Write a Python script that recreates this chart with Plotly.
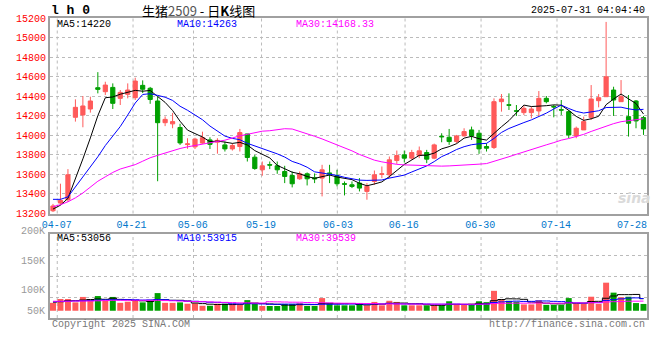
import plotly.graph_objects as go

# ---------------- data ----------------
tick_labels = ['04-07', '04-21', '05-06', '05-19', '06-03', '06-16', '06-30', '07-14', '07-28']

opens = [13228, 13307, 13341, 14184, 14208, 14269, 14487, 14446, 14490, 14378,
         14419, 14385, 14511, 14481, 14351, 14129, 14117, 14080, 13905, 13882,
         13920, 13953, 13930, 13902, 13861, 13885, 14014, 13776, 13647, 13700,
         13688, 13630, 13589, 13555, 13606, 13565, 13562, 13615, 13586, 13505,
         13494, 13511, 13426, 13528, 13600, 13596, 13742, 13800, 13766, 13793,
         13824, 13766, 13990, 13980, 13936, 13994, 14055, 14021, 13885, 13875,
         14344, 14312, 14251, 14232, 14232, 14249, 14378, 14295, 14262, 14242,
         13994, 14055, 14181, 14354, 14395, 14463, 14344, 14191, 14351, 14181]
highs = [13298, 13505, 13654, 14368, 14402, 14395, 14646, 14548, 14531, 14463,
         14531, 14589, 14562, 14495, 14395, 14193, 14229, 14118, 13970, 13975,
         14037, 13980, 13970, 13936, 13919, 14065, 14014, 13800, 13732, 13732,
         13732, 13688, 13630, 13630, 13620, 13610, 13698, 13698, 13647, 13528,
         13528, 13562, 13511, 13640, 13681, 13783, 13844, 13844, 13851, 13885,
         13851, 13915, 14021, 14065, 14004, 14072, 14089, 14055, 13919, 14378,
         14422, 14429, 14310, 14300, 14293, 14453, 14402, 14310, 14361, 14259,
         14089, 14191, 14514, 14422, 15160, 14497, 14565, 14412, 14361, 14198]
lows = [13215, 13290, 13320, 14140, 14082, 14232, 14429, 14412, 14269, 14310,
        14378, 14361, 14432, 14322, 13530, 14094, 14072, 13902, 13862, 13860,
        13912, 13860, 13812, 13834, 13844, 13834, 13732, 13647, 13586, 13654,
        13606, 13511, 13467, 13545, 13487, 13511, 13375, 13511, 13477, 13385,
        13460, 13426, 13341, 13494, 13562, 13562, 13708, 13722, 13749, 13766,
        13715, 13756, 13929, 13902, 13919, 13987, 13953, 13810, 13834, 13860,
        14242, 14259, 14198, 14208, 14174, 14198, 14327, 14184, 14208, 13970,
        13970, 14055, 14157, 14286, 14395, 14198, 14344, 13987, 14072, 14004]
closes = [13277, 13334, 13596, 14286, 14300, 14351, 14470, 14514, 14327, 14439,
          14463, 14555, 14471, 14366, 14129, 14163, 14140, 13922, 13912, 13961,
          13975, 13907, 13948, 13861, 13895, 14028, 13773, 13660, 13688, 13695,
          13647, 13579, 13504, 13606, 13555, 13555, 13647, 13605, 13504, 13500,
          13477, 13460, 13477, 13596, 13606, 13749, 13793, 13766, 13824, 13841,
          13756, 13902, 13985, 13936, 13994, 14038, 13994, 13861, 13868, 14344,
          14371, 14308, 14247, 14276, 14269, 14378, 14344, 14290, 14258, 14004,
          14072, 14140, 14371, 14385, 14599, 14361, 14395, 14123, 14147, 14065]
volumes_k = [35, 52, 52, 37, 61, 46, 65, 44, 61, 35,
             40, 46, 37, 46, 78, 35, 35, 37, 31, 33,
             22, 22, 31, 31, 31, 28, 47, 33, 21, 21,
             21, 30, 30, 33, 21, 21, 56, 33, 24, 24,
             24, 33, 24, 39, 24, 44, 39, 24, 24, 24,
             24, 24, 24, 42, 26, 26, 28, 42, 38, 88,
             52, 44, 40, 28, 28, 46, 26, 26, 26, 56,
             30, 30, 62, 30, 124, 80, 60, 62, 34, 30]

# moving-average values visible before a full window exists
ma5_head = [13245, 13285, 13355, 13550]
ma10_head = [13345, 13345, 13370, 13470, 13570, 13670, 13780, 13895, 13990]
ma30_head = [13270, 13290, 13320, 13360, 13410, 13470, 13530, 13575, 13620, 13655,
             13675, 13700, 13735, 13770, 13795, 13820, 13843, 13865, 13882, 13897,
             13913, 13925, 13937, 13950, 13975, 13995, 14010, 14030, 14042]
vma5_head = [38, 40, 44, 45]
vma10_head = [40, 41, 42, 43, 44, 45, 47, 48, 49]
vma30_head = [42, 42, 42, 43, 43, 43, 44, 45, 46, 46, 46, 46, 46, 46, 46, 45, 44, 43, 42, 41,
              40, 39, 38, 37, 36, 35, 35, 34, 34]

price_ticks = [13200, 13400, 13600, 13800, 14000, 14200, 14400, 14600, 14800, 15000, 15200]
vol_labels = ['200K', '150K', '100K', '50K']
legend_price = ['MA5:14220', 'MA10:14263', 'MA30:14168.33']
legend_vol = ['MA5:53056', 'MA10:53915', 'MA30:39539']


def moving_avg(vals, w, head):
    out = list(head)
    for i in range(len(head), len(vals)):
        out.append(sum(vals[i - w + 1:i + 1]) / w)
    return out


n = len(closes)
xs = list(range(n))
volumes = [v * 1000 for v in volumes_k]
ma5 = moving_avg(closes, 5, ma5_head)
ma10 = moving_avg(closes, 10, ma10_head)
ma30 = moving_avg(closes, 30, ma30_head)
vma5 = moving_avg(volumes, 5, [v * 1000 for v in vma5_head])
vma10 = moving_avg(volumes, 10, [v * 1000 for v in vma10_head])
vma30 = moving_avg(volumes, 30, [v * 1000 for v in vma30_head])

# ---------------- style ----------------
RED = '#FF5A5A'
GREEN = '#00A000'
MONO = 'Liberation Mono, DejaVu Sans Mono, monospace'
GRID = '#BBBBBB'
FRAME = '#A0A0A0'
MA_COLORS = ['#000000', '#0000FF', '#FF00FF']

X_RANGE = [-0.4, 79.47]
grid_pos = [0.57, 10.71, 18.8, 27.9, 38.04, 47.1, 57.27, 67.43]
label_pos = [0.49, 10.49, 18.71, 27.83, 38.13, 46.93, 57.16, 67.29, 77.47]
VOL_RANGE = [-32000, 339000]

fig = go.Figure()
fig.add_trace(go.Candlestick(
    x=xs, open=opens, high=highs, low=lows, close=closes,
    increasing=dict(line=dict(color=RED, width=1), fillcolor=RED),
    decreasing=dict(line=dict(color=GREEN, width=1), fillcolor=GREEN),
    whiskerwidth=0, xaxis='x', yaxis='y', hoverinfo='skip'))
for vals, col in zip([ma5, ma10, ma30], MA_COLORS):
    fig.add_trace(go.Scatter(x=xs, y=vals, mode='lines', line=dict(color=col, width=1),
                             xaxis='x', yaxis='y', hoverinfo='skip'))

bar_colors = [RED if c >= o else GREEN for o, c in zip(opens, closes)]
fig.add_trace(go.Bar(x=xs, y=volumes, width=0.8, marker=dict(color=bar_colors, line=dict(width=0)),
                     xaxis='x2', yaxis='y2', hoverinfo='skip'))
for vals, col in zip([vma5, vma10, vma30], MA_COLORS):
    fig.add_trace(go.Scatter(x=xs, y=vals, mode='lines', line=dict(color=col, width=1, shape='hvh'),
                             xaxis='x2', yaxis='y2', hoverinfo='skip'))

W, H = 660, 360
ML, MR, MT, MB = 50, 11, 18, 42
PW, PH = W - ML - MR, H - MT - MB


def px(x):
    return (x - ML) / PW


def py(y):
    return (H - MB - y) / PH


main_bottom = 213.5
vol_top = 234

shapes = []
for g in grid_pos:
    for yr in ['y domain', 'y2 domain']:
        shapes.append(dict(type='line', xref='x', yref=yr, x0=g, x1=g, y0=0, y1=1,
                           line=dict(color=GRID, width=1, dash='dot'), layer='below'))

annotations = []
annotations.append(dict(text='<b>l h 0</b>', x=px(49), y=py(10), xanchor='left', yanchor='middle',
                        font=dict(family='Liberation Mono', size=13, color='black')))
annotations.append(dict(text='生猪<span style="color:#555">2509</span> - 日<b>K</b>线图',
                        x=px(199), y=py(10), xanchor='center', yanchor='middle',
                        font=dict(family='Noto Sans CJK SC', size=13, color='black')))
annotations.append(dict(text='2025-07-31 04:04:40', x=px(649), y=py(11), xanchor='right', yanchor='middle',
                        font=dict(family=MONO, size=10, color='black')))
for txt, xx, col in zip(legend_price, [55, 175, 295], MA_COLORS):
    annotations.append(dict(text=txt, x=px(xx), y=py(24), xanchor='left', yanchor='middle',
                            font=dict(family=MONO, size=10, color=col)))
for txt, xx, col in zip(legend_vol, [55, 175, 295], MA_COLORS):
    annotations.append(dict(text=txt, x=px(xx), y=py(238.5), xanchor='left', yanchor='middle',
                            font=dict(family=MONO, size=10, color=col)))
for txt, yy in zip(vol_labels, [231, 261, 290, 311]):
    annotations.append(dict(text=txt, x=px(47), y=py(yy), xanchor='right', yanchor='middle',
                            font=dict(family=MONO, size=10, color='#999999')))
annotations.append(dict(text='Copyright 2025 SINA.COM', x=px(50), y=py(324), xanchor='left', yanchor='middle',
                        font=dict(family=MONO, size=10, color='#777777')))
annotations.append(dict(text='http://finance.sina.com.cn', x=px(649), y=py(324), xanchor='right',
                        yanchor='middle', font=dict(family=MONO, size=10, color='#777777')))
annotations.append(dict(text='<i><b>sina</b></i>', x=px(636), y=py(198), xanchor='center', yanchor='middle',
                        font=dict(family='DejaVu Sans', size=14, color='#DADADA')))
for a in annotations:
    a.update(xref='paper', yref='paper', showarrow=False)

vol_grid = [VOL_RANGE[0] + k * (VOL_RANGE[1] - VOL_RANGE[0]) / 4 for k in (1, 2, 3)]

fig.update_layout(
    width=W, height=H, margin=dict(l=ML, r=MR, t=MT, b=MB, pad=0),
    paper_bgcolor='white', plot_bgcolor='white', showlegend=False, boxgap=0.2,
    xaxis=dict(domain=[0, 1], anchor='y', range=X_RANGE, rangeslider=dict(visible=False),
               tickmode='array', tickvals=label_pos, ticktext=tick_labels, showgrid=False,
               zeroline=False, ticks='', tickfont=dict(family=MONO, size=10, color='#0077CC'),
               showline=True, mirror=True, linecolor=FRAME, linewidth=2),
    yaxis=dict(domain=[py(main_bottom), 1], anchor='x', range=[13200, 15200],
               tickmode='array', tickvals=price_ticks, ticktext=[str(t) for t in price_ticks],
               showgrid=True, gridcolor=GRID, griddash='dot', gridwidth=1, zeroline=False, ticks='',
               tickfont=dict(family=MONO, size=10, color='#FF0000'),
               showline=True, mirror=True, linecolor=FRAME, linewidth=2),
    xaxis2=dict(domain=[0, 1], anchor='y2', range=X_RANGE, showticklabels=False, showgrid=False,
                zeroline=False, ticks='', showline=True, mirror=True, linecolor=FRAME, linewidth=2),
    yaxis2=dict(domain=[0, py(vol_top)], anchor='x2', range=VOL_RANGE, tickmode='array',
                tickvals=vol_grid, showticklabels=False, showgrid=True, gridcolor=GRID, griddash='dot',
                gridwidth=1, zeroline=False, ticks='', showline=True, mirror=True, linecolor=FRAME,
                linewidth=2),
    shapes=shapes, annotations=annotations,
)

fig.write_html('out.html', config={'displayModeBar': False},
               post_script="document.body.style.margin='0px';")
